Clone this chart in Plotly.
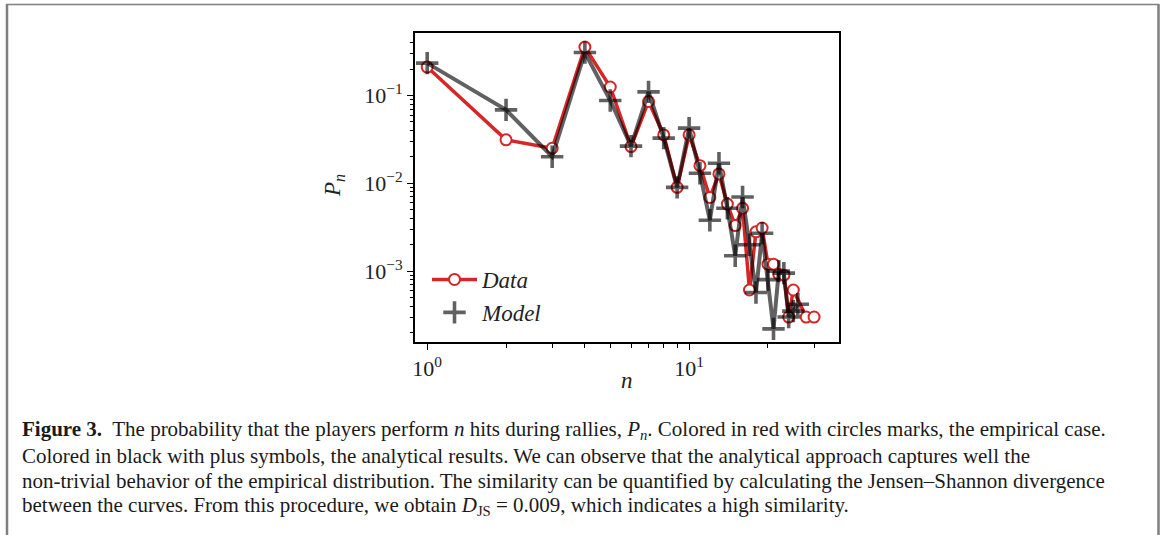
import plotly.graph_objects as go

# ---- data ----
n_data = [1, 2, 3, 4, 5, 6, 7, 8, 9, 10, 11, 12, 13, 14, 15, 16, 17, 18, 19, 20, 21, 22, 23, 24, 25, 28, 30]
p_data = [0.211, 0.0313, 0.0251, 0.356, 0.125, 0.0262, 0.0855, 0.0356, 0.0090, 0.0356,
          0.0159, 0.0069, 0.0128, 0.0058, 0.0033, 0.0052, 0.00061, 0.0028, 0.0031, 0.0012,
          0.0012, 0.00092, 0.00090, 0.00030, 0.00061, 0.00030, 0.00030]

n_model = [1, 2, 3, 4, 5, 6, 7, 8, 9, 10, 11, 12, 13, 14, 15, 16, 17, 18, 19, 20, 21, 22, 23, 24, 25, 26]
p_model = [0.234, 0.0687, 0.0201, 0.309, 0.0877, 0.0265, 0.110, 0.0327, 0.0090, 0.0425,
           0.0130, 0.0038, 0.0169, 0.0052, 0.0015, 0.0070, 0.0020, 0.00057, 0.0027, 0.0008,
           0.00022, 0.0010, 0.00095, 0.00030, 0.00035, 0.00042]

legend_names = ["Data", "Model"]
x_label = "n"
x_tick_vals = [1, 10]
x_tick_text = ["10<sup>0</sup>", "10<sup>1</sup>"]
x_minor_vals = [2, 3, 4, 5, 6, 7, 8, 9, 20, 30]
y_tick_vals = [1e-3, 1e-2, 1e-1]
y_tick_text = ["10<sup>\u22123</sup>", "10<sup>\u22122</sup>", "10<sup>\u22121</sup>"]
y_minor_vals = [2e-4, 3e-4, 4e-4, 5e-4, 6e-4, 7e-4, 8e-4, 9e-4,
                2e-3, 3e-3, 4e-3, 5e-3, 6e-3, 7e-3, 8e-3, 9e-3,
                2e-2, 3e-2, 4e-2, 5e-2, 6e-2, 7e-2, 8e-2, 9e-2,
                2e-1, 3e-1, 4e-1]
caption_lines = [
    "<b>Figure 3.</b>&nbsp; The probability that the players perform <i>n</i> hits during rallies, <i>P<sub>n</sub></i>. Colored in red with circles marks, the empirical case.",
    "Colored in black with plus symbols, the analytical results. We can observe that the analytical approach captures well the",
    "non-trivial behavior of the empirical distribution. The similarity can be quantified by calculating the Jensen\u2013Shannon divergence",
    "between the curves. From this procedure, we obtain <i>D</i><sub>JS</sub> = 0.009, which indicates a high similarity.",
]

W, H = 1165, 535
L, R, T, B = 415, 839, 33, 342


def px_x(px):
    return (px - L) / (R - L)


def px_y(py):
    return (B - py) / (B - T)


RED = "#d62728"
GRAY = "rgba(0,0,0,0.62)"
SERIF = "Liberation Serif"

fig = go.Figure()

fig.add_trace(go.Scatter(
    x=n_data, y=p_data, mode="lines+markers", name="<i>" + legend_names[0] + "</i>",
    line=dict(color=RED, width=3.5),
    marker=dict(symbol="circle", size=11, color="white", line=dict(color=RED, width=2)),
    legendgroup="a",
))
fig.add_trace(go.Scatter(
    x=n_model, y=p_model, mode="lines", showlegend=False,
    line=dict(color=GRAY, width=4), hoverinfo="skip",
))
fig.add_trace(go.Scatter(
    x=n_model, y=p_model, mode="markers", name="<i>" + legend_names[1] + "</i>",
    marker=dict(symbol="cross-thin", size=16, color=GRAY, line=dict(color=GRAY, width=3.6)),
    legendgroup="b",
))

axis_common = dict(
    type="log", showgrid=False, zeroline=False,
    showline=True, linecolor="black", linewidth=2, mirror=True,
    ticks="outside", ticklen=6, tickwidth=1.3, tickcolor="black",
    tickmode="array",
    tickfont=dict(family=SERIF, size=22, color="#222"),
)
minor_common = dict(ticks="outside", ticklen=3.5, tickwidth=1, tickcolor="black",
                    showgrid=False, tickmode="array")

fig.update_layout(
    width=W, height=H,
    margin=dict(l=L, r=W - R, t=T, b=H - B, pad=0),
    paper_bgcolor="white", plot_bgcolor="white",
    xaxis=dict(range=[-0.0466, 1.5723], tickvals=x_tick_vals, ticktext=x_tick_text,
               minor=dict(tickvals=x_minor_vals, **minor_common), **axis_common),
    yaxis=dict(range=[-3.807, -0.288], tickvals=y_tick_vals, ticktext=y_tick_text,
               minor=dict(tickvals=y_minor_vals, **minor_common), **axis_common),
    legend=dict(
        x=px_x(427), y=px_y(258), xanchor="left", yanchor="top",
        bgcolor="rgba(0,0,0,0)", borderwidth=0,
        font=dict(family=SERIF, size=23, color="#222"),
        traceorder="grouped", tracegroupgap=0, itemwidth=45,
    ),
    showlegend=True,
)

# axis titles
fig.add_annotation(x=px_x(627), y=px_y(395), xref="paper", yref="paper",
                   text="<i>" + x_label + "</i>", showarrow=False,
                   font=dict(family=SERIF, size=23, color="#222"))
fig.add_annotation(x=px_x(334), y=px_y(186), xref="paper", yref="paper",
                   xanchor="center", yanchor="middle",
                   text="<i>P</i><sub><i>n</i></sub>", showarrow=False, textangle=-90,
                   font=dict(family=SERIF, size=23, color="#222"))

# caption
for i, line in enumerate(caption_lines):
    fig.add_annotation(x=px_x(20), y=px_y(430 + i * 25.5), xref="paper", yref="paper",
                       xanchor="left", yanchor="middle", align="left",
                       text=line, showarrow=False,
                       font=dict(family=SERIF, size=21.0, color="#1a1a1a"))

# outer page frame (open at bottom)
frame_col = "#7f7f7f"
fig.add_shape(type="line", xref="paper", yref="paper",
              x0=px_x(7), x1=px_x(7), y0=px_y(535), y1=px_y(4),
              line=dict(color=frame_col, width=2.5))
fig.add_shape(type="line", xref="paper", yref="paper",
              x0=px_x(6), x1=px_x(1159), y0=px_y(4.5), y1=px_y(4.5),
              line=dict(color=frame_col, width=1.3))
fig.add_shape(type="line", xref="paper", yref="paper",
              x0=px_x(1158.5), x1=px_x(1158.5), y0=px_y(535), y1=px_y(4),
              line=dict(color=frame_col, width=2.5))

fig.write_html("out.html")
